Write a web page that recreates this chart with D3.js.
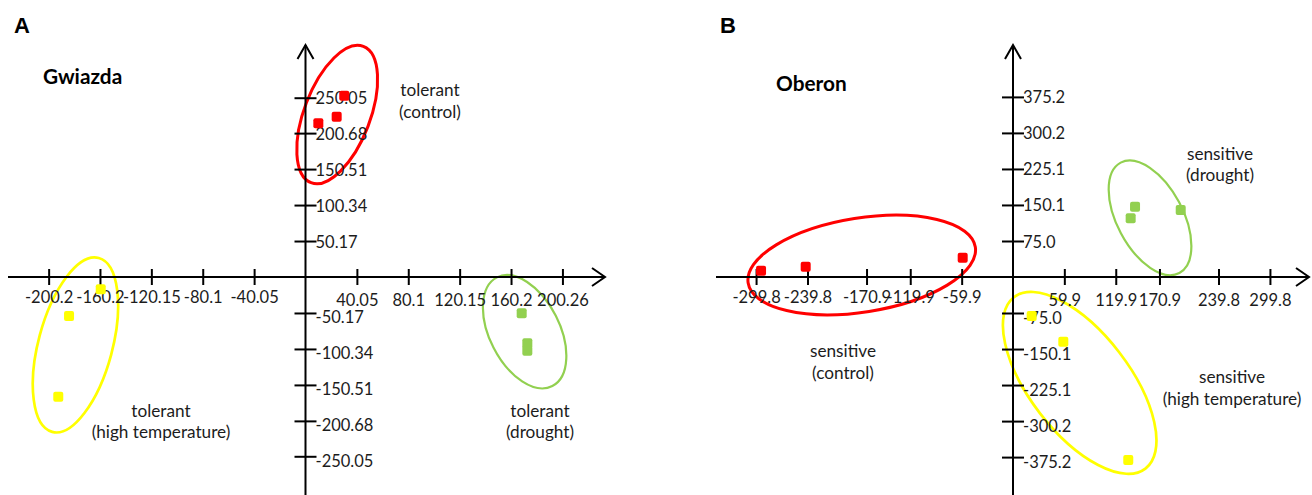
<!DOCTYPE html>
<html><head><meta charset="utf-8">
<script src="https://cdn.jsdelivr.net/npm/d3@7"></script>
<style>body{margin:0;background:#fff;} svg{display:block;}</style>
</head><body>
<svg id="chart" width="1312" height="495"></svg>
<script>
// ---------- DATA ----------
// Panel A: Gwiazda
const aXTicks = [-200.2, -160.2, -120.15, -80.1, -40.05, 40.05, 80.1, 120.15, 160.2, 200.26];
const aXTickLabels = ["-200.2", "-160.2", "-120.15", "-80.1", "-40.05", "40.05", "80.1", "120.15", "160.2", "200.26"];
const aYTicks = [250.05, 200.68, 150.51, 100.34, 50.17, -50.17, -100.34, -150.51, -200.68, -250.05];
const aYTickLabels = ["250.05", "200.68", "150.51", "100.34", "50.17", "-50.17", "-100.34", "-150.51", "-200.68", "-250.05"];
const aControlX = [30.2, 24.3, 10.0];
const aControlY = [252.9, 223.6, 214.4];
const aHeatX = [-159.6, -184.3, -192.7];
const aHeatY = [-17.2, -54.4, -166.9];
const aDroughtX = [168.5, 172.9, 172.9];
const aDroughtY = [-50.6, -92.5, -102.8];
const aGroupCentersX = [24.7, -179.3, 170.8];   // control, heat, drought
const aGroupCentersY = [226.6, -94.8, -76.3];
const aGroupLabels = [["tolerant", "(control)"], ["tolerant", "(high temperature)"], ["tolerant", "(drought)"]];

// Panel B: Oberon
const bXTicks = [-299.8, -239.8, -170.9, -119.9, -59.9, 59.9, 119.9, 170.9, 239.8, 299.8];
const bXTickLabels = ["-299.8", "-239.8", "-170.9", "-119.9", "-59.9", "59.9", "119.9", "170.9", "239.8", "299.8"];
const bYTicks = [375.2, 300.2, 225.1, 150.1, 75.0, -75.0, -150.1, -225.1, -300.2, -375.2];
const bYTickLabels = ["375.2", "300.2", "225.1", "150.1", "75.0", "-75.0", "-150.1", "-225.1", "-300.2", "-375.2"];
const bControlX = [-294.0, -241.9, -58.7];
const bControlY = [13.1, 21.5, 40.2];
const bDroughtX = [142.4, 137.3, 195.7];
const bDroughtY = [146.5, 122.3, 139.6];
const bHeatX = [21.8, 58.7, 134.5];
const bHeatY = [-81.3, -134.8, -381.3];
const bGroupCentersX = [-176.5, 77.8, 159.9];  // control, heat, drought
const bGroupCentersY = [25.0, -220.6, 123.3];
const bGroupLabels = [["sensitive", "(control)"], ["sensitive", "(high temperature)"], ["sensitive", "(drought)"]];

// ---------- STYLE / LAYOUT ----------
const RED = "#ff0000", YELLOW = "#ffff00", GREEN = "#92d050";
const FONT = "Lato, 'Open Sans', sans-serif";
const TEXT = "#1c1c1c";

const svg = d3.select("#chart");
svg.append("rect").attr("width", 1312).attr("height", 495).attr("fill", "#fff");

function drawPanel(p) {
  const g = svg.append("g");
  const x = p.x, y = p.y;
  const x0 = x(0), y0 = y(0);

  // ellipses (behind points)
  p.ellipses.forEach(e => {
    g.append("ellipse")
      .attr("transform", `translate(${x(e.cx)},${y(e.cy)}) rotate(${e.angle})`)
      .attr("rx", e.rx).attr("ry", e.ry)
      .attr("fill", "none").attr("stroke", e.color).attr("stroke-width", e.sw);
  });

  // axes lines
  g.append("line").attr("x1", p.xStart).attr("x2", p.xEnd).attr("y1", y0).attr("y2", y0)
    .attr("stroke", "#000").attr("stroke-width", 2);
  g.append("path").attr("d", `M${p.xEnd - 13},${y0 - 9} L${p.xEnd},${y0} L${p.xEnd - 13},${y0 + 9}`)
    .attr("fill", "none").attr("stroke", "#000").attr("stroke-width", 2);
  g.append("line").attr("x1", x0).attr("x2", x0).attr("y1", p.yTop).attr("y2", 495)
    .attr("stroke", "#000").attr("stroke-width", 2);
  g.append("path").attr("d", `M${x0 - 8},${p.yTop + 14} L${x0},${p.yTop} L${x0 + 8},${p.yTop + 14}`)
    .attr("fill", "none").attr("stroke", "#000").attr("stroke-width", 2);

  // x axis ticks
  const gx = g.append("g").attr("transform", `translate(0,${y0})`)
    .call(d3.axisBottom(x).tickValues(p.xTicks).tickFormat((d, i) => p.xTickLabels[i]));
  gx.select(".domain").remove();
  gx.selectAll(".tick line").attr("y1", -8).attr("y2", 8).attr("stroke", "#000").attr("stroke-width", 2);
  gx.selectAll(".tick text").attr("dy", null).attr("y", d => d < 0 ? 25.5 : 29)
    .attr("fill", TEXT).style("font-family", FONT).style("font-size", "16.5px");

  // y axis ticks
  const gy = g.append("g").attr("transform", `translate(${x0},0)`)
    .call(d3.axisRight(y).tickValues(p.yTicks).tickFormat((d, i) => p.yTickLabels[i]));
  gy.select(".domain").remove();
  gy.selectAll(".tick line").attr("x1", -11).attr("x2", 11).attr("stroke", "#000").attr("stroke-width", 2);
  gy.selectAll(".tick text").attr("dy", null).attr("x", 10).attr("y", d => d < 0 ? 10 : 6)
    .attr("text-anchor", "start")
    .attr("fill", TEXT).style("font-family", FONT).style("font-size", "16.5px");

  // points
  p.series.forEach(s => {
    g.selectAll(null).data(s.xs.map((v, i) => [v, s.ys[i]])).enter().append("rect")
      .attr("x", d => x(d[0]) - 5).attr("y", d => y(d[1]) - 5)
      .attr("width", 10).attr("height", 10).attr("rx", 2)
      .attr("fill", s.color);
  });

  // group labels
  p.labels.forEach(l => {
    const t = g.append("text").attr("x", l.x).attr("y", l.y).attr("text-anchor", "middle")
      .attr("fill", TEXT).style("font-family", FONT).style("font-size", "17.2px");
    l.lines.forEach((ln, i) => t.append("tspan").attr("x", l.x).attr("dy", i === 0 ? 0 : 21.7).text(ln));
  });

  // titles
  g.append("text").attr("x", p.letterX).attr("y", 33).text(p.letter)
    .style("font-family", "'Liberation Sans', Arial, sans-serif").style("font-weight", "bold").style("font-size", "22px");
  g.append("text").attr("x", p.nameX).attr("y", p.nameY).text(p.name)
    .style("font-family", FONT).style("font-weight", "bold").style("font-size", "20.8px");
}

const xA = d3.scaleLinear().domain([-240, 240]).range([305.5 - 240 * 1.283, 305.5 + 240 * 1.283]);
const yA = d3.scaleLinear().domain([-320, 320]).range([277 + 320 * 0.717, 277 - 320 * 0.717]);
const xB = d3.scaleLinear().domain([-350, 350]).range([1013 - 350 * 0.857, 1013 + 350 * 0.857]);
const yB = d3.scaleLinear().domain([-480, 480]).range([277 + 480 * 0.48, 277 - 480 * 0.48]);

drawPanel({
  x: xA, y: yA, xStart: 8, xEnd: 605, yTop: 45,
  xTicks: aXTicks, xTickLabels: aXTickLabels, yTicks: aYTicks, yTickLabels: aYTickLabels,
  series: [
    { xs: aControlX, ys: aControlY, color: RED },
    { xs: aHeatX, ys: aHeatY, color: YELLOW },
    { xs: aDroughtX, ys: aDroughtY, color: GREEN }
  ],
  ellipses: [
    { cx: aGroupCentersX[0], cy: aGroupCentersY[0], rx: 33, ry: 73, angle: 21, color: RED, sw: 3 },
    { cx: aGroupCentersX[1], cy: aGroupCentersY[1], rx: 37, ry: 90, angle: 15, color: YELLOW, sw: 2.7 },
    { cx: aGroupCentersX[2], cy: aGroupCentersY[2], rx: 35, ry: 61, angle: -27, color: GREEN, sw: 2.2 }
  ],
  labels: [
    { x: 430, y: 96, lines: aGroupLabels[0] },
    { x: 161, y: 416.5, lines: aGroupLabels[1] },
    { x: 540, y: 416.5, lines: aGroupLabels[2] }
  ],
  letter: "A", letterX: 14, name: "Gwiazda", nameX: 43, nameY: 84
});

drawPanel({
  x: xB, y: yB, xStart: 716, xEnd: 1309, yTop: 45,
  xTicks: bXTicks, xTickLabels: bXTickLabels, yTicks: bYTicks, yTickLabels: bYTickLabels,
  series: [
    { xs: bControlX, ys: bControlY, color: RED },
    { xs: bHeatX, ys: bHeatY, color: YELLOW },
    { xs: bDroughtX, ys: bDroughtY, color: GREEN }
  ],
  ellipses: [
    { cx: bGroupCentersX[0], cy: bGroupCentersY[0], rx: 115, ry: 47, angle: -9, color: RED, sw: 3 },
    { cx: bGroupCentersX[1], cy: bGroupCentersY[1], rx: 50, ry: 108, angle: -37.5, color: YELLOW, sw: 2.7 },
    { cx: bGroupCentersX[2], cy: bGroupCentersY[2], rx: 33, ry: 62.5, angle: -28, color: GREEN, sw: 2.2 }
  ],
  labels: [
    { x: 843, y: 357, lines: bGroupLabels[0] },
    { x: 1232, y: 383, lines: bGroupLabels[1] },
    { x: 1220, y: 159.5, lines: bGroupLabels[2] }
  ],
  letter: "B", letterX: 720, name: "Oberon", nameX: 776, nameY: 91
});
</script>
</body></html>
